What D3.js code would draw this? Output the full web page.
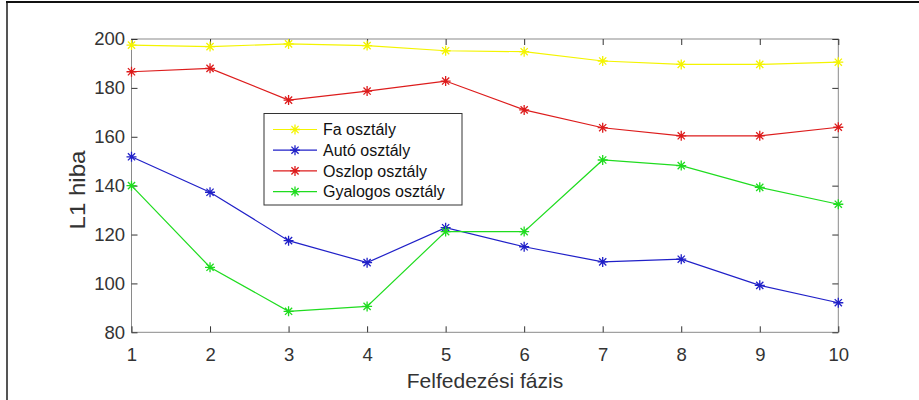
<!DOCTYPE html>
<html>
<head>
<meta charset="utf-8">
<script src="https://cdn.jsdelivr.net/npm/d3@7"></script>
<style>
  body { margin: 0; background: #fff; }
  svg { display: block; font-family: "Liberation Sans", Arial, sans-serif; }
</style>
</head>
<body>
<svg width="919" height="400"></svg>
<script>
// phases on the x axis
const phases = [1, 2, 3, 4, 5, 6, 7, 8, 9, 10];
const seriesNames = ['Fa osztály', 'Autó osztály', 'Oszlop osztály', 'Gyalogos osztály'];
const faValues = [197.5, 196.9, 198, 197.3, 195.2, 194.8, 191, 189.6, 189.6, 190.5];
const autoValues = [151.8, 137.3, 117.5, 108.5, 122.8, 115, 108.8, 109.9, 99.2, 92.1];
const oszlopValues = [186.6, 188, 175, 178.7, 182.8, 171, 163.7, 160.4, 160.4, 163.9];
const gyalogosValues = [140, 106.6, 88.6, 90.6, 121.2, 121.2, 150.5, 148.2, 139.3, 132.4];
const yTicks = [80, 100, 120, 140, 160, 180, 200];
const colors = ['#f4f400', '#2020c8', '#dd1c1c', '#1fdc1f'];

const svg = d3.select('svg');

const plotLeft = 131.5, plotRight = 838.3, plotTop = 39, plotBottom = 332.3;

// cropped figure frame
svg.append('line').attr('x1', 7).attr('x2', 7).attr('y1', 2).attr('y2', 400)
  .attr('stroke', '#555').attr('stroke-width', 2);
svg.append('line').attr('x1', 6).attr('x2', 919).attr('y1', 2).attr('y2', 2)
  .attr('stroke', '#111').attr('stroke-width', 2);

const x = d3.scaleLinear().domain([1, 10]).range([plotLeft, plotRight]);
const y = d3.scaleLinear().domain([80, 200]).range([plotBottom, plotTop]);

// box
svg.append('rect')
  .attr('x', plotLeft).attr('y', plotTop)
  .attr('width', plotRight - plotLeft).attr('height', plotBottom - plotTop)
  .attr('fill', 'none').attr('stroke', '#8a8a8a').attr('stroke-width', 1);

const xAxis = d3.axisBottom(x).tickValues(phases).tickFormat(d3.format('d'))
  .tickSizeInner(-6).tickSizeOuter(0).tickPadding(15.5);
const xAxisTop = d3.axisTop(x).tickValues(phases).tickFormat('')
  .tickSizeInner(-6).tickSizeOuter(0);
const yAxis = d3.axisLeft(y).tickValues(yTicks)
  .tickSizeInner(-6).tickSizeOuter(0).tickPadding(6.5);
const yAxisRight = d3.axisRight(y).tickValues(yTicks).tickFormat('')
  .tickSizeInner(-6).tickSizeOuter(0);

function styleAxis(g) {
  g.select('.domain').remove();
  g.selectAll('.tick line').attr('stroke', '#333');
  g.selectAll('.tick text').attr('fill', '#333').attr('font-size', 18.5)
    .attr('font-family', '"Liberation Sans", Arial, sans-serif');
}

svg.append('g').attr('transform', 'translate(0,' + plotBottom + ')').call(xAxis).call(styleAxis);
svg.append('g').attr('transform', 'translate(0,' + plotTop + ')').call(xAxisTop).call(styleAxis);
svg.append('g').attr('transform', 'translate(' + plotLeft + ',0)').call(yAxis).call(styleAxis);
svg.append('g').attr('transform', 'translate(' + plotRight + ',0)').call(yAxisRight).call(styleAxis);

// axis labels
svg.append('text')
  .attr('x', 485).attr('y', 388.3)
  .attr('text-anchor', 'middle').attr('font-size', 21).attr('fill', '#333')
  .text('Felfedezési fázis');
svg.append('text')
  .attr('transform', 'translate(85,190) rotate(-90)')
  .attr('text-anchor', 'middle').attr('font-size', 22).attr('fill', '#333')
  .attr('textLength', 79).attr('lengthAdjust', 'spacingAndGlyphs')
  .text('L1 hiba');

function asterisk(g, cx, cy, r, color) {
  const d = r * 0.72;
  const p = 'M' + (cx - r) + ',' + cy + 'L' + (cx + r) + ',' + cy +
    'M' + cx + ',' + (cy - r) + 'L' + cx + ',' + (cy + r) +
    'M' + (cx - d) + ',' + (cy - d) + 'L' + (cx + d) + ',' + (cy + d) +
    'M' + (cx - d) + ',' + (cy + d) + 'L' + (cx + d) + ',' + (cy - d);
  g.append('path').attr('d', p).attr('stroke', color).attr('stroke-width', 1.3).attr('fill', 'none');
}

const allSeries = [faValues, autoValues, oszlopValues, gyalogosValues];
const line = d3.line().x((d, i) => x(phases[i])).y(d => y(d));

allSeries.forEach((vals, k) => {
  const g = svg.append('g');
  g.append('path').datum(vals).attr('d', line)
    .attr('fill', 'none').attr('stroke', colors[k]).attr('stroke-width', 1.2);
  vals.forEach((v, i) => asterisk(g, x(phases[i]), y(v), 5, colors[k]));
});

// legend
const lg = svg.append('g');
lg.append('rect').attr('x', 264).attr('y', 113.5).attr('width', 198).attr('height', 91.5)
  .attr('fill', '#fff').attr('stroke', '#333').attr('stroke-width', 1);
seriesNames.forEach((name, k) => {
  const ry = 129.5 + k * 20.7;
  lg.append('line').attr('x1', 273).attr('x2', 317).attr('y1', ry).attr('y2', ry)
    .attr('stroke', colors[k]).attr('stroke-width', 1.2);
  asterisk(lg, 295, ry, 5, colors[k]);
  lg.append('text').attr('x', 323).attr('y', ry).attr('dy', '0.35em')
    .attr('font-size', 16).attr('fill', '#111').text(name);
});
</script>
</body>
</html>
